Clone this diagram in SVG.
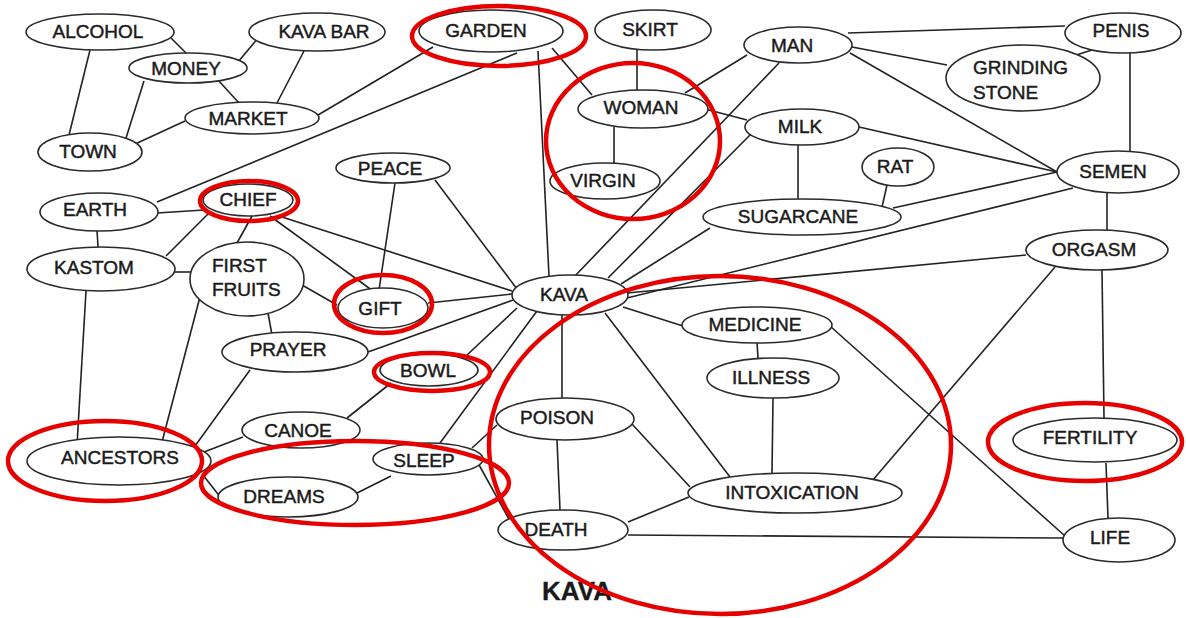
<svg xmlns="http://www.w3.org/2000/svg" width="1186" height="618" viewBox="0 0 1186 618">
<style>
.n ellipse{fill:#fff;stroke:#2a2a2a;stroke-width:1.6}
.n text,.t{font-family:"Liberation Sans",Arial,sans-serif;font-size:19px;fill:#1a1a1a;stroke:#1a1a1a;stroke-width:0.45}
.c{text-anchor:middle}
#edges line{stroke:#222;stroke-width:1.6}
.r{fill:none;stroke:#e60000;stroke-width:4.5}
</style>
<rect width="1186" height="618" fill="#fff"/>
<g id="edges">
<line x1="171" y1="38" x2="187" y2="54"/>
<line x1="90" y1="50" x2="69" y2="135"/>
<line x1="238" y1="62" x2="258" y2="38"/>
<line x1="218" y1="80" x2="239" y2="103"/>
<line x1="144" y1="81" x2="126" y2="138"/>
<line x1="304" y1="51" x2="277" y2="103"/>
<line x1="185" y1="121" x2="133" y2="145"/>
<line x1="318" y1="115" x2="433" y2="47"/>
<line x1="157" y1="202" x2="517" y2="53"/>
<line x1="538" y1="51" x2="549" y2="276"/>
<line x1="552" y1="48" x2="592" y2="95"/>
<line x1="637" y1="50" x2="637" y2="90"/>
<line x1="614" y1="127" x2="614" y2="163"/>
<line x1="685" y1="93" x2="747" y2="55"/>
<line x1="705" y1="109" x2="747" y2="120"/>
<line x1="779" y1="63" x2="574" y2="277"/>
<line x1="755" y1="130" x2="608" y2="278"/>
<line x1="710" y1="228" x2="621" y2="284"/>
<line x1="1073" y1="188" x2="627" y2="298"/>
<line x1="1026" y1="255" x2="627" y2="293"/>
<line x1="848" y1="33" x2="1065" y2="26"/>
<line x1="852" y1="47" x2="947" y2="65"/>
<line x1="850" y1="53" x2="1057" y2="172"/>
<line x1="1070" y1="57" x2="1092" y2="50"/>
<line x1="1130" y1="52" x2="1130" y2="152"/>
<line x1="859" y1="127" x2="1057" y2="172"/>
<line x1="798" y1="145" x2="798" y2="200"/>
<line x1="887" y1="185" x2="882" y2="207"/>
<line x1="893" y1="208" x2="1057" y2="172"/>
<line x1="1107" y1="193" x2="1107" y2="230"/>
<line x1="1102" y1="270" x2="1104" y2="418"/>
<line x1="1106" y1="463" x2="1108" y2="518"/>
<line x1="1055" y1="267" x2="872" y2="481"/>
<line x1="830" y1="326" x2="1065" y2="536"/>
<line x1="628" y1="535" x2="1063" y2="538"/>
<line x1="623" y1="307" x2="683" y2="326"/>
<line x1="757" y1="342" x2="758" y2="358"/>
<line x1="773" y1="398" x2="772" y2="474"/>
<line x1="605" y1="313" x2="730" y2="477"/>
<line x1="562" y1="315" x2="562" y2="398"/>
<line x1="632" y1="424" x2="690" y2="487"/>
<line x1="557" y1="440" x2="560" y2="510"/>
<line x1="628" y1="522" x2="689" y2="497"/>
<line x1="478" y1="463" x2="510" y2="521"/>
<line x1="472" y1="448" x2="497" y2="425"/>
<line x1="440" y1="443" x2="537" y2="311"/>
<line x1="467" y1="355" x2="517" y2="308"/>
<line x1="368" y1="352" x2="513" y2="300"/>
<line x1="428" y1="303" x2="512" y2="294"/>
<line x1="282" y1="217" x2="512" y2="291"/>
<line x1="270" y1="216" x2="373" y2="291"/>
<line x1="395" y1="183" x2="379" y2="290"/>
<line x1="435" y1="180" x2="517" y2="289"/>
<line x1="302" y1="285" x2="337" y2="305"/>
<line x1="268" y1="313" x2="272" y2="335"/>
<line x1="252" y1="216" x2="237" y2="243"/>
<line x1="157" y1="213" x2="204" y2="210"/>
<line x1="97" y1="230" x2="98" y2="247"/>
<line x1="209" y1="213" x2="166" y2="256"/>
<line x1="174" y1="272" x2="191" y2="272"/>
<line x1="86" y1="291" x2="77" y2="445"/>
<line x1="201" y1="293" x2="162" y2="442"/>
<line x1="250" y1="370" x2="195" y2="446"/>
<line x1="243" y1="437" x2="204" y2="452"/>
<line x1="203" y1="475" x2="221" y2="498"/>
<line x1="347" y1="418" x2="391" y2="383"/>
<line x1="357" y1="493" x2="391" y2="476"/>
</g>
<g id="alcohol" class="n"><ellipse cx="100" cy="32" rx="74" ry="18"/><text class="c" x="98" y="38">ALCOHOL</text></g>
<g id="kavabar" class="n"><ellipse cx="317" cy="32" rx="68" ry="19"/><text class="c" x="324" y="38">KAVA BAR</text></g>
<g id="money" class="n"><ellipse cx="188" cy="68" rx="59" ry="15"/><text class="c" x="186" y="75">MONEY</text></g>
<g id="market" class="n"><ellipse cx="252" cy="118" rx="67" ry="16"/><text class="c" x="248" y="125">MARKET</text></g>
<g id="town" class="n"><ellipse cx="90" cy="152" rx="52" ry="19"/><text class="c" x="88" y="158">TOWN</text></g>
<g id="garden" class="n"><ellipse cx="491" cy="31" rx="72" ry="21"/><text class="c" x="486" y="37">GARDEN</text></g>
<g id="skirt" class="n"><ellipse cx="653" cy="30" rx="58" ry="20"/><text class="c" x="650" y="36">SKIRT</text></g>
<g id="woman" class="n"><ellipse cx="643" cy="109" rx="65" ry="19"/><text class="c" x="641" y="114">WOMAN</text></g>
<g id="virgin" class="n"><ellipse cx="605" cy="181" rx="55" ry="18"/><text class="c" x="603" y="187">VIRGIN</text></g>
<g id="man" class="n"><ellipse cx="798" cy="45" rx="54" ry="18"/><text class="c" x="792" y="52">MAN</text></g>
<g id="milk" class="n"><ellipse cx="802" cy="127" rx="57" ry="18"/><text class="c" x="800" y="133">MILK</text></g>
<g id="rat" class="n"><ellipse cx="898" cy="167" rx="36" ry="19"/><text class="c" x="895" y="173">RAT</text></g>
<g id="sugarcane" class="n"><ellipse cx="802" cy="217" rx="99" ry="18"/><text class="c" x="798" y="223">SUGARCANE</text></g>
<g id="penis" class="n"><ellipse cx="1123" cy="33" rx="58" ry="20"/><text class="c" x="1121" y="37">PENIS</text></g>
<g id="grindingstone" class="n"><ellipse cx="1023" cy="78" rx="77" ry="33"/><text x="973" y="74">GRINDING</text><text x="973" y="99">STONE</text></g>
<g id="semen" class="n"><ellipse cx="1118" cy="172" rx="61" ry="21"/><text class="c" x="1113" y="178">SEMEN</text></g>
<g id="orgasm" class="n"><ellipse cx="1097" cy="250" rx="71" ry="20"/><text class="c" x="1094" y="256">ORGASM</text></g>
<g id="fertility" class="n"><ellipse cx="1095" cy="440" rx="82" ry="22"/><text class="c" x="1090" y="444">FERTILITY</text></g>
<g id="life" class="n"><ellipse cx="1119" cy="540" rx="56" ry="22"/><text class="c" x="1110" y="544">LIFE</text></g>
<g id="peace" class="n"><ellipse cx="393" cy="168" rx="57" ry="15"/><text class="c" x="390" y="175">PEACE</text></g>
<g id="kava" class="n"><ellipse cx="570" cy="295" rx="58" ry="20"/><text class="c" x="564" y="301">KAVA</text></g>
<g id="gift" class="n"><ellipse cx="383" cy="308" rx="45" ry="20"/><text class="c" x="380" y="315">GIFT</text></g>
<g id="bowl" class="n"><ellipse cx="429" cy="370" rx="49" ry="16"/><text class="c" x="428" y="377">BOWL</text></g>
<g id="earth" class="n"><ellipse cx="99" cy="212" rx="59" ry="19"/><text class="c" x="95" y="216">EARTH</text></g>
<g id="chief" class="n"><ellipse cx="248" cy="200" rx="45" ry="16"/><text class="c" x="248" y="206">CHIEF</text></g>
<g id="kastom" class="n"><ellipse cx="101" cy="269" rx="74" ry="22"/><text class="c" x="94" y="274">KASTOM</text></g>
<g id="firstfruits" class="n"><ellipse cx="247" cy="279" rx="57" ry="37"/><text x="212" y="272">FIRST</text><text x="212" y="296">FRUITS</text></g>
<g id="prayer" class="n"><ellipse cx="295" cy="352" rx="73" ry="20"/><text class="c" x="288" y="356">PRAYER</text></g>
<g id="canoe" class="n"><ellipse cx="301" cy="430" rx="59" ry="18"/><text class="c" x="298" y="437">CANOE</text></g>
<g id="ancestors" class="n"><ellipse cx="119" cy="461" rx="92" ry="24"/><text class="c" x="120" y="464">ANCESTORS</text></g>
<g id="dreams" class="n"><ellipse cx="288" cy="497" rx="70" ry="20"/><text class="c" x="284" y="503">DREAMS</text></g>
<g id="sleep" class="n"><ellipse cx="428" cy="459" rx="55" ry="16"/><text class="c" x="424" y="467">SLEEP</text></g>
<g id="poison" class="n"><ellipse cx="565" cy="419" rx="69" ry="21"/><text class="c" x="557" y="424">POISON</text></g>
<g id="death" class="n"><ellipse cx="563" cy="530" rx="65" ry="20"/><text class="c" x="556" y="536">DEATH</text></g>
<g id="medicine" class="n"><ellipse cx="757" cy="325" rx="75" ry="18"/><text class="c" x="755" y="331">MEDICINE</text></g>
<g id="illness" class="n"><ellipse cx="773" cy="378" rx="66" ry="20"/><text class="c" x="771" y="384">ILLNESS</text></g>
<g id="intoxication" class="n"><ellipse cx="795" cy="493" rx="107" ry="20"/><text class="c" x="792" y="499">INTOXICATION</text></g>
<text class="t c" x="577" y="600" style="font-size:26px;font-weight:bold;stroke-width:0.3">KAVA</text>
<g id="highlights">
<ellipse class="r" cx="499" cy="36" rx="87" ry="30"/>
<ellipse class="r" cx="633" cy="141" rx="87" ry="78"/>
<ellipse class="r" cx="249" cy="201" rx="49" ry="20"/>
<ellipse class="r" cx="383" cy="304" rx="49" ry="29"/>
<ellipse class="r" cx="432" cy="372" rx="58" ry="19"/>
<ellipse class="r" cx="105" cy="461" rx="97" ry="40"/>
<ellipse class="r" cx="355" cy="483" rx="154" ry="42"/>
<ellipse class="r" cx="720" cy="445" rx="231" ry="169"/>
<ellipse class="r" cx="1085" cy="442" rx="97" ry="39"/>
</g>
</svg>
